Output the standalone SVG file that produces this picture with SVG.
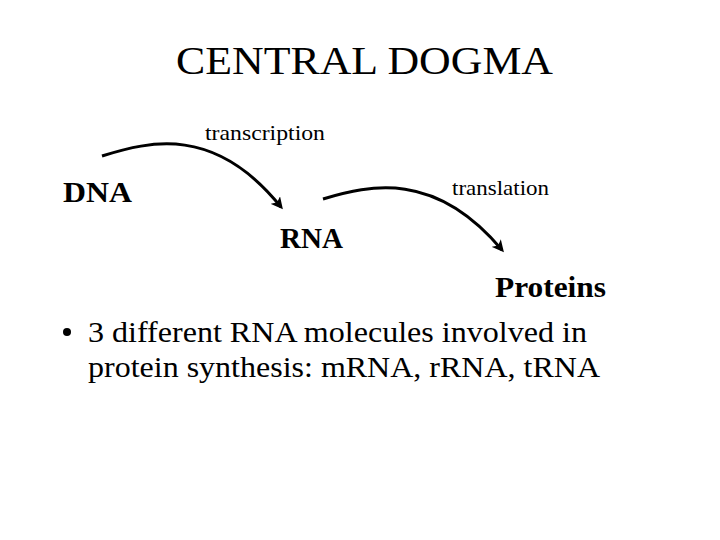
<svg xmlns="http://www.w3.org/2000/svg" width="720" height="540" viewBox="0 0 720 540">
<defs>
<style>
.t{font-family:"Liberation Serif","Times New Roman",serif;fill:#000}
.b{font-weight:bold}
.c{fill:none;stroke:#000;stroke-width:3}
</style>
<marker id="ah" markerWidth="12" markerHeight="12" refX="9" refY="6" orient="auto" markerUnits="userSpaceOnUse">
<path d="M0,0 L12,6 L0,12 L3,6 Z" fill="#000"/>
</marker>
</defs>
<rect width="720" height="540" fill="#fff"/>
<text class="t" x="176" y="74" font-size="40" textLength="377" lengthAdjust="spacingAndGlyphs">CENTRAL DOGMA</text>
<g id="connectors">
<path class="c" d="M102,156 C150,141 215,125 281,207" marker-end="url(#ah)"/>
<path class="c" d="M323,199 C370,185 435,170 502,250" marker-end="url(#ah)"/>
<text class="t" x="205" y="140" font-size="22" textLength="120" lengthAdjust="spacingAndGlyphs">transcription</text>
<text class="t" x="452" y="195" font-size="22" textLength="97" lengthAdjust="spacingAndGlyphs">translation</text>
</g>
<g id="dna"><text class="t b" x="63" y="202" font-size="29" textLength="69" lengthAdjust="spacingAndGlyphs">DNA</text></g>
<g id="rna"><text class="t b" x="280" y="248" font-size="29" textLength="63" lengthAdjust="spacingAndGlyphs">RNA</text></g>
<g id="proteins"><text class="t b" x="495" y="297" font-size="29" textLength="111" lengthAdjust="spacingAndGlyphs">Proteins</text></g>
<g id="bullet">
<circle cx="67" cy="332" r="4" fill="#000"/>
<text class="t" x="88" y="342" font-size="29" textLength="499" lengthAdjust="spacingAndGlyphs">3 different RNA molecules involved in</text>
<text class="t" x="88" y="377" font-size="29" textLength="512" lengthAdjust="spacingAndGlyphs">protein synthesis: mRNA, rRNA, tRNA</text>
</g>
</svg>
